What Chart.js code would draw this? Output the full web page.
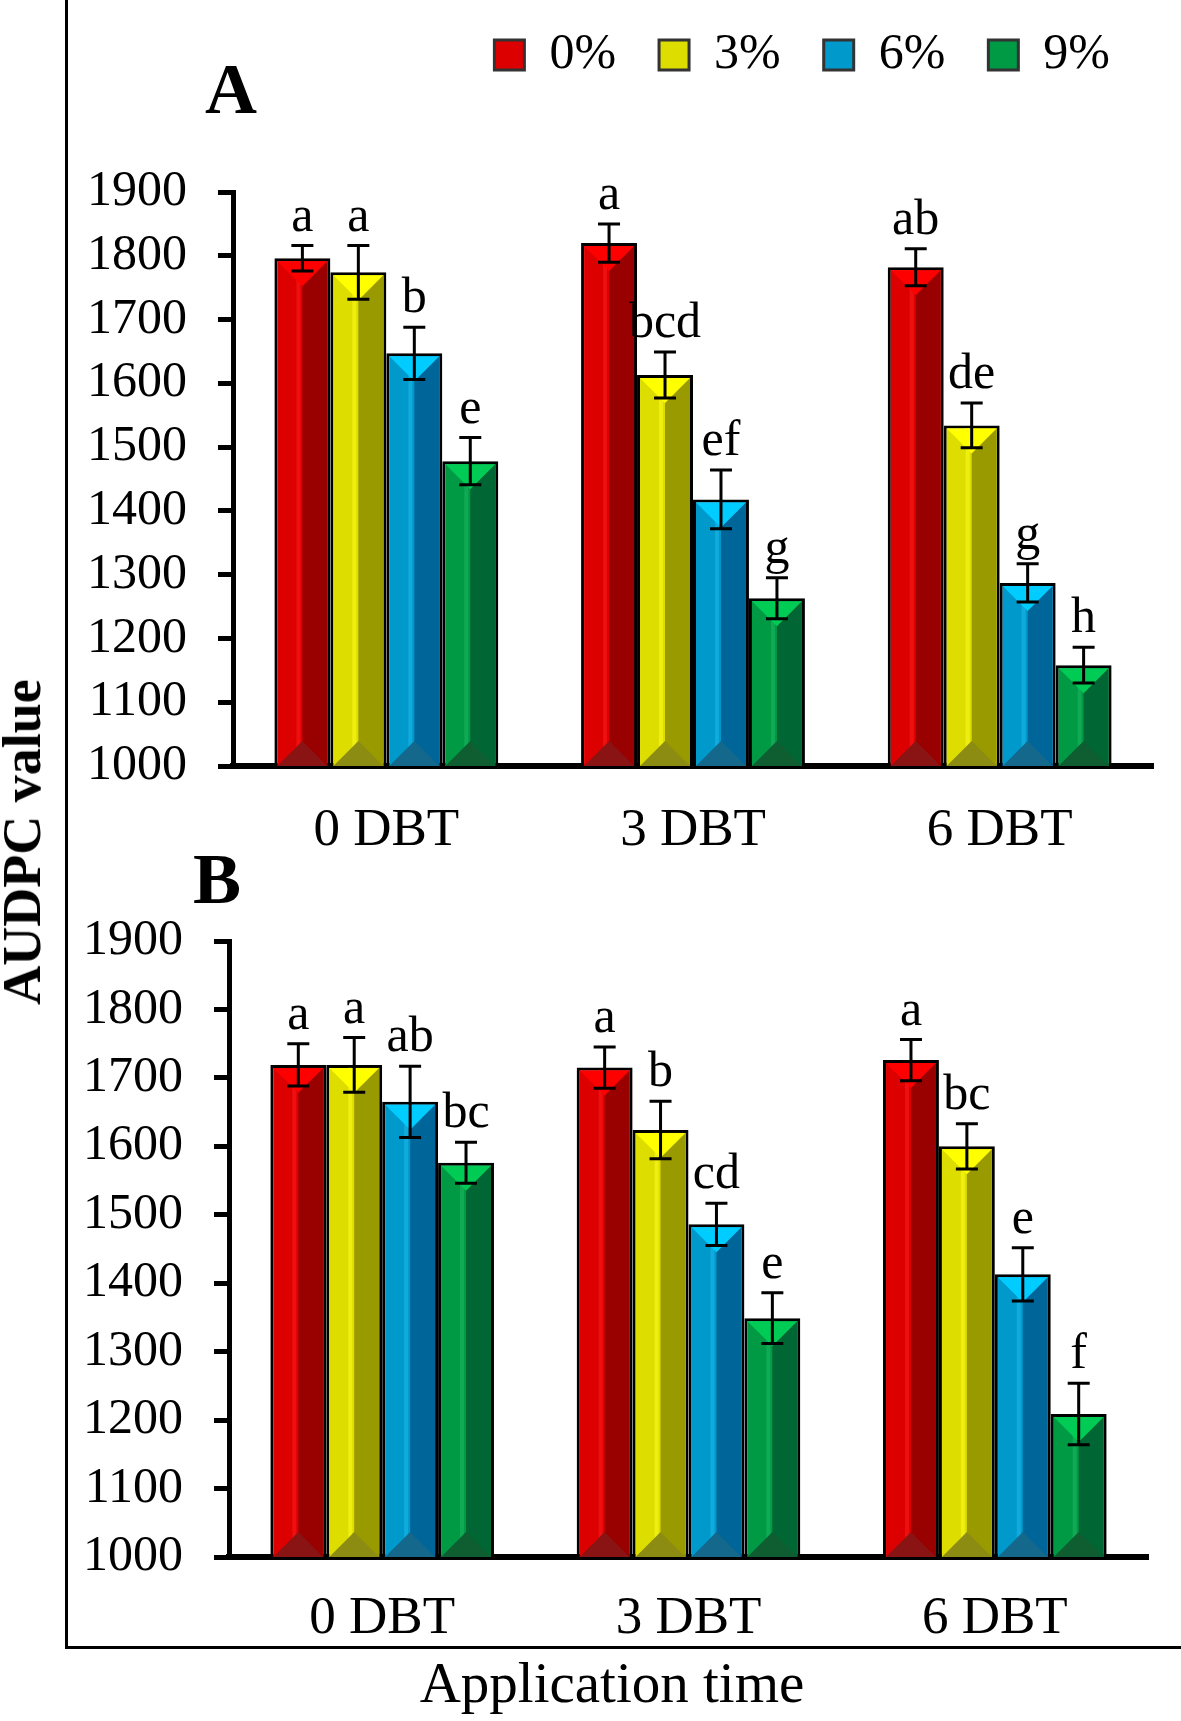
<!DOCTYPE html>
<html>
<head>
<meta charset="utf-8">
<script src="https://cdn.jsdelivr.net/npm/chart.js@4.4.0/dist/chart.umd.min.js"></script>
<style>
  body { margin: 0; background: #fff; }
  #page { position: relative; width: 1181px; height: 1721px; overflow: hidden; font-family: "Liberation Serif", "Times New Roman", serif; color: #000; }
  .frameL { position: absolute; left: 65px; top: 0; width: 3px; height: 1649px; background: #000; }
  .frameB { position: absolute; left: 65px; top: 1646px; width: 1116px; height: 3px; background: #000; }
  .panel { position: absolute; font-weight: bold; font-size: 72px; line-height: 1; }
  canvas { position: absolute; }
  #chartA { left: 40px; top: -13px; }
  #chartB { left: 40px; top: 880px; }
  .ytitle { position: absolute; left: 22px; top: 842px; transform: translate(-50%, -50%) rotate(-90deg); font-weight: bold; font-size: 54px; line-height: 1; white-space: nowrap; }
  .xtitle { position: absolute; left: 612px; top: 1654px; transform: translateX(-50%); font-size: 57px; line-height: 1; white-space: nowrap; }
</style>
</head>
<body>
<div id="page">
  <div class="frameL"></div>
  <div class="frameB"></div>
  <canvas id="chartA" width="1141" height="879"></canvas>
  <canvas id="chartB" width="1141" height="777"></canvas>
  <div class="panel" style="left:205px; top:53px;">A</div>
  <div class="panel" style="left:193px; top:843px;">B</div>
  <div class="ytitle">AUDPC value</div>
  <div class="xtitle">Application time</div>
</div>
<script>
// categorias y series
const categories = ['0 DBT', '3 DBT', '6 DBT'];
const seriesNames = ['0%', '3%', '6%', '9%'];
const yMin = 1000;
const yMax = 1900;
const yStep = 100;

// Panel A
const a0 = [1796, 1820, 1782];
const a3 = [1774, 1613, 1534];
const a6 = [1647, 1418, 1287];
const a9 = [1478, 1263, 1158];
const a0Err = [20, 30, 29];
const a3Err = [42, 36, 35];
const a6Err = [41, 46, 30];
const a9Err = [37, 32, 28];
const a0Let = ['a', 'a', 'ab'];
const a3Let = ['a', 'bcd', 'de'];
const a6Let = ['b', 'ef', 'g'];
const a9Let = ['e', 'g', 'h'];

// Panel B
const b0 = [1719, 1715, 1726];
const b3 = [1719, 1624, 1600];
const b6 = [1665, 1486, 1413];
const b9 = [1576, 1349, 1209];
const b0Err = [31, 30, 30];
const b3Err = [40, 42, 33];
const b6Err = [52, 31, 39];
const b9Err = [30, 37, 45];
const b0Let = ['a', 'a', 'a'];
const b3Let = ['a', 'b', 'bc'];
const b6Let = ['ab', 'cd', 'e'];
const b9Let = ['bc', 'e', 'f'];

// colores (cara clara, cara oscura, bisel superior, bisel inferior)
const lightColors = ['#dd0000', '#dddd00', '#0099cc', '#009944'];
const stripeColors = ['#ee1010', '#eeee10', '#10aadd', '#10aa55'];
const darkColors = ['#990000', '#999900', '#006699', '#006633'];
const topColors = ['#ff0000', '#ffff00', '#00ccff', '#00cc55'];
const baseColors = ['#8a1414', '#8c8c12', '#14688c', '#0f5e32'];

Chart.defaults.font.family = '"Liberation Serif", "Times New Roman", serif';
Chart.defaults.color = '#000';

// espacio fijo para la leyenda del panel A
const legendSpace = {
  id: 'legendSpace',
  beforeInit(chart) {
    const fit = chart.legend.fit;
    chart.legend.fit = function () {
      fit.call(this);
      this.height = 205;
    };
  }
};

// efecto 3D de las barras
const bevelPlugin = {
  id: 'bevel',
  afterDatasetsDraw(chart) {
    const ctx = chart.ctx;
    const area = chart.chartArea;
    chart.data.datasets.forEach((ds, di) => {
      chart.getDatasetMeta(di).data.forEach((bar) => {
        const { x, y, width } = bar.getProps(['x', 'y', 'width'], true);
        const base = area.bottom;
        const b = 3;
        const l = x - width / 2 + b;
        const r = x + width / 2 - b;
        const t = y + b;
        const half = (r - l) / 2;
        ctx.save();
        ctx.fillStyle = darkColors[di];
        ctx.fillRect(x, t, r - x, base - t);
        ctx.fillStyle = stripeColors[di];
        ctx.fillRect(x - 6, t, 4, base - t);
        ctx.fillStyle = topColors[di];
        ctx.beginPath();
        ctx.moveTo(l, t);
        ctx.lineTo(r, t);
        ctx.lineTo(x, t + half);
        ctx.closePath();
        ctx.fill();
        ctx.fillStyle = baseColors[di];
        ctx.beginPath();
        ctx.moveTo(l, base);
        ctx.lineTo(r, base);
        ctx.lineTo(x, base - half);
        ctx.closePath();
        ctx.fill();
        ctx.restore();
      });
    });
  }
};

// barras de error y letras
const errorPlugin = {
  id: 'errors',
  afterDatasetsDraw(chart) {
    const ctx = chart.ctx;
    const yScale = chart.scales.y;
    chart.data.datasets.forEach((ds, di) => {
      chart.getDatasetMeta(di).data.forEach((bar, i) => {
        const v = ds.data[i];
        const e = ds.errors[i];
        const x = bar.x;
        const top = yScale.getPixelForValue(v + e);
        const bot = yScale.getPixelForValue(v - e);
        ctx.save();
        ctx.strokeStyle = '#000';
        ctx.lineWidth = 3;
        ctx.beginPath();
        ctx.moveTo(x, top);
        ctx.lineTo(x, bot);
        ctx.moveTo(x - 11, top);
        ctx.lineTo(x + 11, top);
        ctx.moveTo(x - 11, bot);
        ctx.lineTo(x + 11, bot);
        ctx.stroke();
        ctx.fillStyle = '#000';
        ctx.font = '50px "Liberation Serif", serif';
        ctx.textAlign = 'center';
        ctx.textBaseline = 'alphabetic';
        ctx.fillText(ds.letters[i], x, top - 15);
        ctx.restore();
      });
    });
  }
};

function buildChart(id, sets, opt) {
  return new Chart(document.getElementById(id), {
    type: 'bar',
    data: {
      labels: categories,
      datasets: sets.map((s, i) => ({
        label: seriesNames[i],
        data: s[0],
        errors: s[1],
        letters: s[2],
        backgroundColor: lightColors[i],
        borderColor: '#000',
        borderWidth: 3,
        categoryPercentage: 0.73,
        barPercentage: 1
      }))
    },
    options: {
      responsive: false,
      animation: false,
      layout: { padding: { top: opt.padTop, right: opt.padRight, bottom: 0, left: 0 } },
      plugins: {
        tooltip: { enabled: false },
        legend: {
          display: opt.legend,
          position: 'top',
          align: 'end',
          labels: {
            font: { size: 50 },
            color: '#000',
            boxWidth: 30,
            boxHeight: 30,
            padding: 43,
            generateLabels: (chart) => chart.data.datasets.map((ds, i) => ({
              text: ds.label,
              fillStyle: lightColors[i],
              strokeStyle: '#333',
              lineWidth: 3,
              fontColor: '#000',
              hidden: false,
              datasetIndex: i
            }))
          }
        }
      },
      scales: {
        x: {
          z: 1,
          grid: { display: false, drawTicks: false },
          border: { display: true, color: '#000', width: 6 },
          ticks: { font: { size: 53 }, color: '#000', padding: opt.xPad },
          afterFit: (scale) => { scale.height = 100; }
        },
        y: {
          min: yMin,
          max: yMax,
          ticks: { stepSize: yStep, font: { size: 50 }, color: '#000', padding: 31, callback: (v) => String(v) },
          grid: { drawOnChartArea: false, drawTicks: true, tickLength: 15, tickWidth: 5, color: '#000' },
          border: { display: true, color: '#000', width: 5 },
          afterFit: (scale) => { scale.width = opt.yWidth; }
        }
      }
    },
    plugins: opt.legend ? [legendSpace, bevelPlugin, errorPlugin] : [bevelPlugin, errorPlugin]
  });
}

buildChart('chartA', [[a0, a0Err, a0Let], [a3, a3Err, a3Let], [a6, a6Err, a6Let], [a9, a9Err, a9Let]],
  { legend: true, padTop: 0, padRight: 28, yWidth: 193, xPad: 33 });
buildChart('chartB', [[b0, b0Err, b0Let], [b3, b3Err, b3Let], [b6, b6Err, b6Let], [b9, b9Err, b9Let]],
  { legend: false, padTop: 60, padRight: 33, yWidth: 189, xPad: 30 });
</script>
</body>
</html>
